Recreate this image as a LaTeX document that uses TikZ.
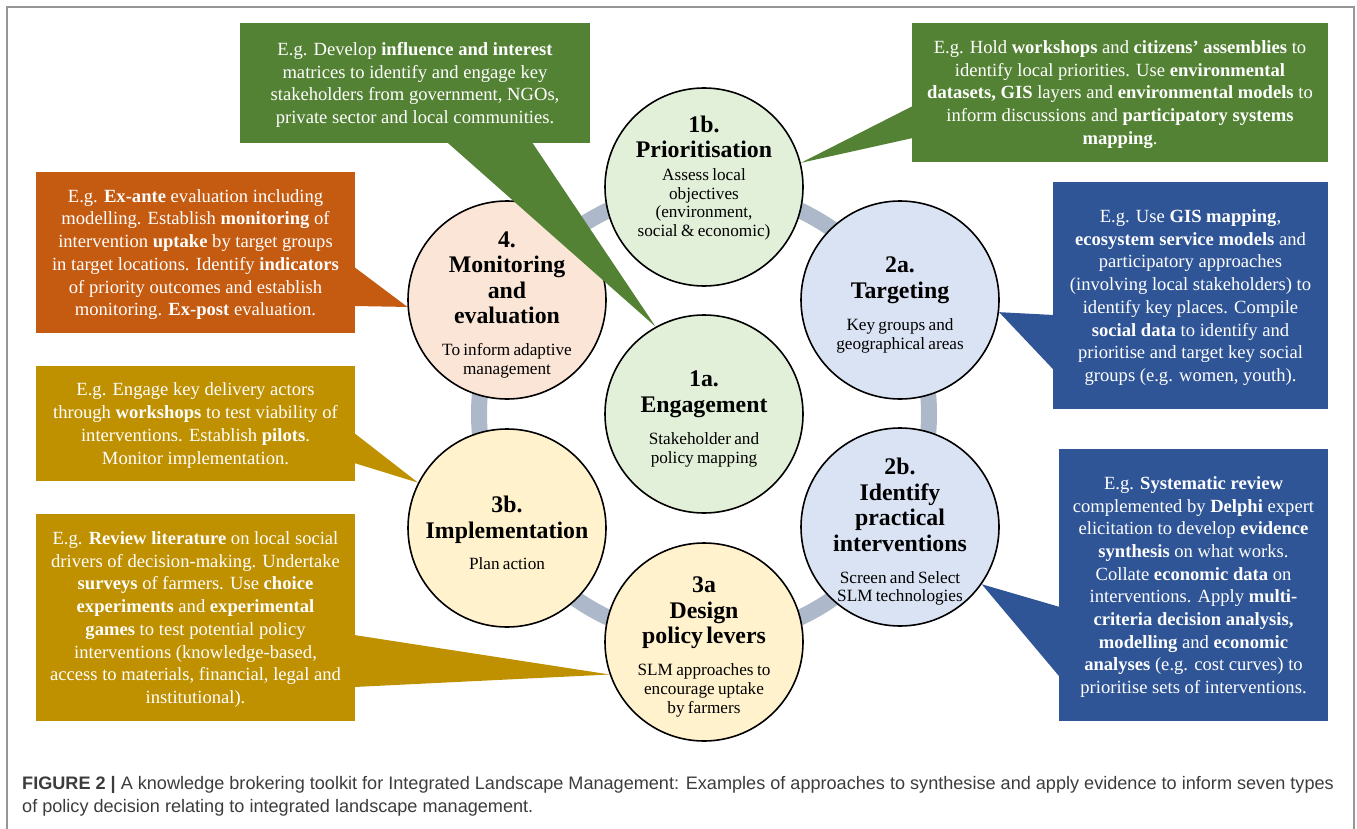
\documentclass[tikz,border=0pt]{standalone}
\usepackage{fontspec}
\setmainfont{Liberation Serif}
\newfontfamily\capfont{Liberation Sans}
\definecolor{boxgreen}{RGB}{84,130,53}
\definecolor{boxblue}{RGB}{47,85,151}
\definecolor{boxorange}{RGB}{197,90,17}
\definecolor{boxgold}{RGB}{191,144,0}
\definecolor{palegreen}{RGB}{226,240,217}
\definecolor{palepeach}{RGB}{251,229,214}
\definecolor{paleblue}{RGB}{218,227,243}
\definecolor{paleyellow}{RGB}{255,242,204}
\definecolor{ringgray}{RGB}{173,185,202}
\definecolor{framegray}{RGB}{150,150,150}
\definecolor{captext}{RGB}{60,60,60}
\newcommand\titlefont{\bfseries\fontsize{23.8}{25.5}\selectfont}
\newcommand\notefont{\fontsize{17.2}{18.8}\selectfont}
\tikzset{
	disc/.style={circle, draw=black, line width=1.6pt, minimum size=198pt, inner sep=0pt},
	disctext/.style={text width=190pt, align=center, inner sep=0pt, yshift=-5pt},
	ebox/.style={rectangle, inner sep=0pt, text=white, align=center, text depth=0pt, font=\fontsize{18.6}{22.7}\selectfont},
}
\begin{document}
\begin{tikzpicture}[x=1pt, y=-1pt]
	\useasboundingbox (0,0) rectangle (1357,829);
	%frame
	\draw[framegray, line width=2pt] (7,829) -- (7,7) -- (1354,7) -- (1354,829);
	%ring behind the discs
	\coordinate (hub) at (704,414);
	\draw[ringgray, line width=16pt] (hub) circle (225pt);
	%discs
	\foreach \n/\x/\y/\c in {1b/704/187/palegreen, 4/507/300/palepeach, 2a/900/300/paleblue, 1a/704/414/palegreen,
		3b/507/528/paleyellow, 2b/900/527/paleblue, 3a/704/642/paleyellow}{
		\node (c\n) at (\x,\y) [disc, fill=\c]{};
	}
	\node (t1b) at ([yshift=14pt]c1b) [disctext]{{\titlefont 1b.\\Prioritisation\par}\vspace{4pt}%
		{\notefont Assess local\\objectives\\(environment,\\social \& economic)\par}};
	\node (t4) at (c4) [disctext]{{\titlefont 4.\\Monitoring\\and\\evaluation\par}\vspace{13pt}%
		{\notefont To inform adaptive\\management\par}};
	\node (t2a) at (c2a) [disctext]{{\titlefont 2a.\\Targeting\par}\vspace{13pt}%
		{\notefont Key groups and\\geographical areas\par}};
	\node (t1a) at (c1a) [disctext]{{\titlefont 1a.\\Engagement\par}\vspace{13pt}%
		{\notefont Stakeholder and\\policy mapping\par}};
	\node (t3b) at (c3b) [disctext]{{\titlefont 3b.\\Implementation\par}\vspace{13pt}%
		{\notefont Plan action\par}};
	\node (t2b) at (c2b) [disctext]{{\titlefont 2b.\\Identify\\practical\\interventions\par}\vspace{13pt}%
		{\notefont Screen and Select\\SLM technologies\par}};
	\node (t3a) at (c3a) [disctext]{{\titlefont 3a\\Design\\policy levers\par}\vspace{13pt}%
		{\notefont SLM approaches to\\encourage uptake\\by farmers\par}};
	%examples
	\node (ex1a) at (415,83) [ebox, fill=boxgreen, minimum width=350pt, minimum height=120pt]{E.g. Develop \textbf{influence and interest}\\
		matrices to identify and engage key\\stakeholders from government, NGOs,\\private sector and local communities.};
	\fill[boxgreen] ([xshift=32pt, yshift=1pt]ex1a.south) -- (c1a.119) -- ([xshift=117pt, yshift=1pt]ex1a.south) -- cycle;
	\node (ex1b) at (1120,92.5) [ebox, fill=boxgreen, minimum width=416pt, minimum height=139pt]{E.g. Hold \textbf{workshops} and \textbf{citizens’ assemblies} to\\
		identify local priorities. Use \textbf{environmental}\\\textbf{datasets, GIS} layers and \textbf{environmental models} to\\
		inform discussions and \textbf{participatory systems}\\\textbf{mapping}.};
	\fill[boxgreen] ([xshift=1pt, yshift=-13.5pt]ex1b.west) -- (c1b.14) -- ([xshift=1pt, yshift=-45.5pt]ex1b.west) -- cycle;
	\node (ex2a) at (1190.5,295.5) [ebox, fill=boxblue, minimum width=275pt, minimum height=227pt]{E.g. Use \textbf{GIS mapping},\\
		\textbf{ecosystem service models} and\\participatory approaches\\(involving local stakeholders) to\\identify key places. Compile\\
		\textbf{social data} to identify and\\prioritise and target key social\\groups (e.g. women, youth).};
	\fill[boxblue] ([xshift=1pt, yshift=-19.5pt]ex2a.west) -- (c2a.-7) -- ([xshift=1pt, yshift=-74.5pt]ex2a.west) -- cycle;
	\node (ex2b) at (1193.5,585) [ebox, fill=boxblue, minimum width=269pt, minimum height=272pt]{E.g. \textbf{Systematic review}\\
		complemented by \textbf{Delphi} expert\\elicitation to develop \textbf{evidence}\\\textbf{synthesis} on what works.\\
		Collate \textbf{economic data} on\\interventions. Apply \textbf{multi-}\\\textbf{criteria decision analysis,}\\
		\textbf{modelling} and \textbf{economic}\\\textbf{analyses} (e.g. cost curves) to\\prioritise sets of interventions.};
	\fill[boxblue] ([xshift=1pt, yshift=-22pt]ex2b.west) -- (c2b.-35) -- ([xshift=1pt, yshift=-92pt]ex2b.west) -- cycle;
	\node (ex4) at (195.5,252.5) [ebox, fill=boxorange, minimum width=319pt, minimum height=161pt]{E.g. \textbf{Ex-ante} evaluation including\\
		modelling. Establish \textbf{monitoring} of\\intervention \textbf{uptake} by target groups\\in target locations. Identify \textbf{indicators}\\
		of priority outcomes and establish\\monitoring. \textbf{Ex-post} evaluation.};
	\fill[boxorange] ([xshift=-1pt, yshift=-14.5pt]ex4.east) -- (c4.184) -- ([xshift=-1pt, yshift=-53.5pt]ex4.east) -- cycle;
	\node (ex3b) at (195.5,423.5) [ebox, fill=boxgold, minimum width=319pt, minimum height=115pt]{E.g. Engage key delivery actors\\
		through \textbf{workshops} to test viability of\\interventions. Establish \textbf{pilots}.\\Monitor implementation.};
	\fill[boxgold] ([xshift=-1pt, yshift=-9.5pt]ex3b.east) -- (c3b.153) -- ([xshift=-1pt, yshift=-39.5pt]ex3b.east) -- cycle;
	\node (ex3a) at (195.5,617.5) [ebox, fill=boxgold, minimum width=319pt, minimum height=207pt]{E.g. \textbf{Review literature} on local social\\
		drivers of decision-making. Undertake\\\textbf{surveys} of farmers. Use \textbf{choice}\\\textbf{experiments} and \textbf{experimental}\\
		\textbf{games} to test potential policy\\interventions (knowledge-based,\\access to materials, financial, legal and\\institutional).};
	\fill[boxgold] ([xshift=-1pt, yshift=-17.5pt]ex3a.east) -- (c3a.199) -- ([xshift=-1pt, yshift=-69.5pt]ex3a.east) -- cycle;
	%caption
	\node (cap) at (22,776) [anchor=north west, inner sep=0pt, align=left, text=captext, font=\capfont\fontsize{18.1}{23}\selectfont]{\textbf{FIGURE 2 |} A knowledge brokering toolkit for Integrated Landscape Management: Examples of approaches to synthesise and apply evidence to inform seven types\\
		of policy decision relating to integrated landscape management.};
\end{tikzpicture}
\end{document}
